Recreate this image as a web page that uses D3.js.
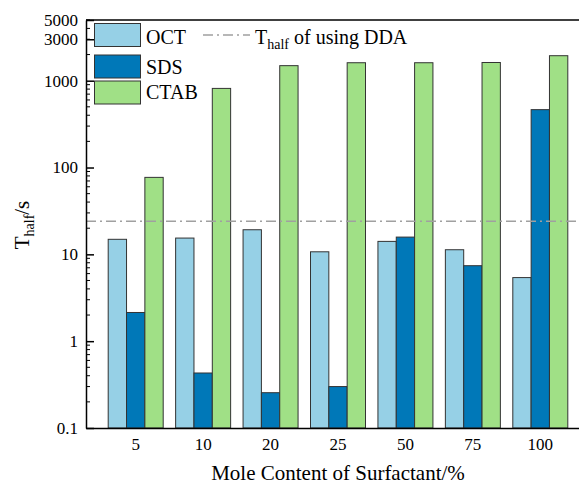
<!DOCTYPE html>
<html>
<head>
<meta charset="UTF-8">
<script src="https://d3js.org/d3.v7.min.js"></script>
<style>
  body { margin: 0; background: #fff; }
  svg { display: block; }
  svg text { font-family: "Liberation Serif", "Times New Roman", Tinos, "DejaVu Serif", serif; }
</style>
</head>
<body>
<svg width="579" height="486"></svg>
<script>
// data
const categories = ["5", "10", "20", "25", "50", "75", "100"];
const seriesNames = ["OCT", "SDS", "CTAB"];
const octValues = [14.9, 15.4, 19.2, 10.7, 14.1, 11.3, 5.4];
const sdsValues = [2.14, 0.43, 0.255, 0.30, 15.8, 7.4, 464];
const ctabValues = [77, 815, 1490, 1610, 1610, 1620, 1940];
const ddaHalf = 24;
const yTickValues = [0.1, 1, 10, 100, 1000, 3000, 5000];
const colors = ["#96d0e6", "#0078b8", "#a0e086"];

const svg = d3.select("svg");
const plotL = 86, plotR = 590, plotT = 20, plotB = 428;

const x = d3.scaleBand().domain(categories).range([plotL, plotR]).paddingOuter(0.237).paddingInner(0);
const groupW = 55;
const xs = d3.scaleBand().domain(seriesNames).range([0, groupW]);
const y = d3.scaleLog().domain([0.1, 5000]).range([plotB, plotT]);

const series = [octValues, sdsValues, ctabValues];
const rows = [];
series.forEach((vals, s) => vals.forEach((v, i) => rows.push({ cat: categories[i], s: seriesNames[s], c: colors[s], v })));

// bars
svg.append("g").selectAll("rect").data(rows).join("rect")
  .attr("x", d => x(d.cat) + x.bandwidth() / 2 - groupW / 2 + xs(d.s))
  .attr("y", d => y(d.v))
  .attr("width", xs.bandwidth())
  .attr("height", d => plotB - y(d.v))
  .attr("fill", d => d.c)
  .attr("stroke", "#333")
  .attr("stroke-width", 1);

// reference line
svg.append("line")
  .attr("x1", plotL).attr("x2", plotR)
  .attr("y1", y(ddaHalf)).attr("y2", y(ddaHalf))
  .attr("stroke", "#a0a0a0").attr("stroke-width", 1.5)
  .attr("stroke-dasharray", "10,4,2,4");

// minor ticks on y
const minor = [];
for (let e = -1; e <= 3; e++) for (let m = 2; m <= 9; m++) {
  const v = m * Math.pow(10, e);
  if (v <= 5000) minor.push(v);
}
svg.append("g").selectAll("line").data(minor).join("line")
  .attr("x1", plotL).attr("x2", plotL + 4)
  .attr("y1", d => y(d)).attr("y2", d => y(d))
  .attr("stroke", "#000").attr("stroke-width", 1);

// y axis
const yAxis = svg.append("g")
  .attr("transform", `translate(${plotL},0)`)
  .call(d3.axisLeft(y).tickValues(yTickValues).tickFormat(d => String(d)).tickSizeInner(-8).tickSizeOuter(0).tickPadding(8));
yAxis.attr("font-family", null);
yAxis.select(".domain").attr("stroke-width", 1.5);
yAxis.selectAll(".tick line").attr("stroke-width", 1.5);
yAxis.selectAll("text").attr("font-size", 17).attr("fill", "#000");

// x axis
const xAxis = svg.append("g")
  .attr("transform", `translate(0,${plotB})`)
  .call(d3.axisBottom(x).tickSize(0).tickPadding(10));
xAxis.attr("font-family", null);
xAxis.select(".domain").attr("stroke-width", 1.5);
xAxis.selectAll("text").attr("font-size", 17).attr("fill", "#000");

// top border
svg.append("line").attr("x1", plotL).attr("x2", plotR).attr("y1", plotT).attr("y2", plotT)
  .attr("stroke", "#000").attr("stroke-width", 1.5);

// axis titles
svg.append("text").attr("x", 338).attr("y", 480)
  .attr("text-anchor", "middle").attr("font-size", 21)
  .text("Mole Content of Surfactant/%");
const yt = svg.append("text").attr("transform", "translate(29,225) rotate(-90)")
  .attr("text-anchor", "middle").attr("font-size", 21);
yt.append("tspan").text("T");
yt.append("tspan").attr("font-size", 14).attr("dy", 5).text("half");
yt.append("tspan").attr("dy", -5).text("/s");

// legend
const legY = [23.5, 55, 81];
const legBase = [43.5, 73.5, 98.5];
const leg = svg.append("g");
seriesNames.forEach((n, i) => {
  leg.append("rect").attr("x", 94.5).attr("y", legY[i]).attr("width", 46).attr("height", 23)
    .attr("fill", colors[i]).attr("stroke", "#333").attr("stroke-width", 1);
  leg.append("text").attr("x", 146).attr("y", legBase[i]).attr("font-size", 20).text(n);
});
leg.append("line").attr("x1", 203).attr("x2", 250).attr("y1", 35).attr("y2", 35)
  .attr("stroke", "#a0a0a0").attr("stroke-width", 1.5).attr("stroke-dasharray", "10,4,2,4");
const lt = leg.append("text").attr("x", 255).attr("y", 43.5).attr("font-size", 20);
lt.append("tspan").text("T");
lt.append("tspan").attr("font-size", 14).attr("dy", 5).text("half");
lt.append("tspan").attr("dy", -5).text(" of using DDA");
</script>
</body>
</html>
